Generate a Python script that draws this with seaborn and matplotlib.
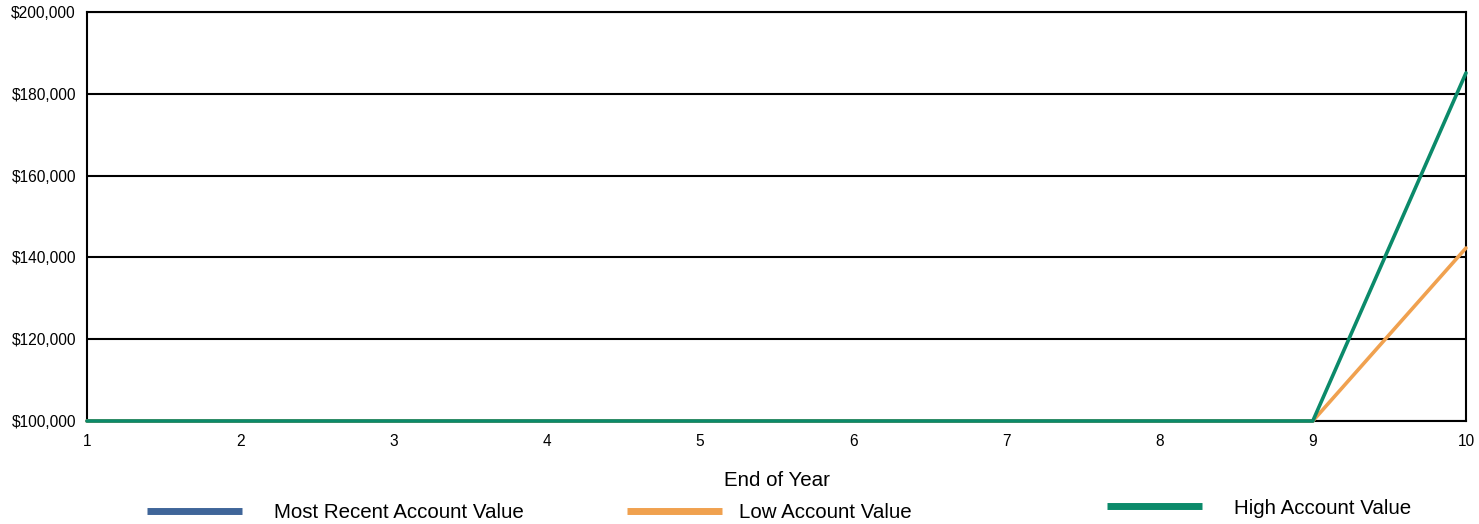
import numpy as np
import pandas as pd
import matplotlib
matplotlib.use("Agg")
import matplotlib.pyplot as plt
import seaborn as sns
from matplotlib.lines import Line2D
from matplotlib.ticker import FuncFormatter

# --- data ---
years = [1, 2, 3, 4, 5, 6, 7, 8, 9, 10]
most_recent = [100000, 100000, 100000, 100000, 100000, 100000, 100000, 100000, 100000, np.nan]
low_value = [100000, 100000, 100000, 100000, 100000, 100000, 100000, 100000, 100000, 142300]
high_value = [100000, 100000, 100000, 100000, 100000, 100000, 100000, 100000, 100000, 185100]

series_names = ["Most Recent Account Value", "Low Account Value", "High Account Value"]
colors = ["#3f6599", "#f0a14f", "#0b8a6a"]

sns.set_theme(style="white")
plt.rcParams['font.family'] = ['Liberation Sans', 'DejaVu Sans']
plt.rcParams['text.color'] = 'black'

df = pd.DataFrame({"year": years,
                   series_names[0]: most_recent,
                   series_names[1]: low_value,
                   series_names[2]: high_value})

fig = plt.figure(figsize=(14.79, 5.24), dpi=100)
ax = fig.add_axes([87 / 1479, 1 - 421 / 524, (1466 - 87) / 1479, (421 - 12) / 524])

for name, col in zip(series_names, colors):
    sns.lineplot(data=df, x="year", y=name, ax=ax, color=col, lw=2.6, legend=False,
                 clip_on=False, zorder=5)

ax.set_xlim(1, 10)
ax.set_ylim(100000, 200000)
ax.set_xticks(years)
ax.set_yticks(range(100000, 200001, 20000))
ax.yaxis.set_major_formatter(FuncFormatter(lambda v, p: f"${v:,.0f}"))
ax.grid(axis="y", color="black", lw=1.5)
ax.set_axisbelow(True)
for s in ax.spines.values():
    s.set_color("black")
    s.set_linewidth(1.5)
    s.set_zorder(2)
ax.tick_params(axis="both", labelsize=11.2, length=0, colors="black")
ax.tick_params(axis="x", pad=9)
ax.tick_params(axis="y", pad=8)
ax.set_xlabel("End of Year", fontsize=14.8, color="black", labelpad=16)
ax.set_ylabel("")

# legend entries placed individually, like the original
legend_pos = [(147 / 1479, 11 / 524), (627 / 1479, 11 / 524), (1107 / 1479, 16 / 524)]
text_pads = [1.6, 0.85, 1.6]
for name, col, pos, tp in zip(series_names, colors, legend_pos, text_pads):
    h = Line2D([0], [0], color=col, lw=5, solid_capstyle="butt")
    fig.legend([h], [name], loc="center left", bbox_to_anchor=pos, frameon=False,
               fontsize=14.8, handlelength=4.6, handletextpad=tp,
               borderpad=0, borderaxespad=0, labelcolor="black")

fig.savefig("out.png", dpi=100)
